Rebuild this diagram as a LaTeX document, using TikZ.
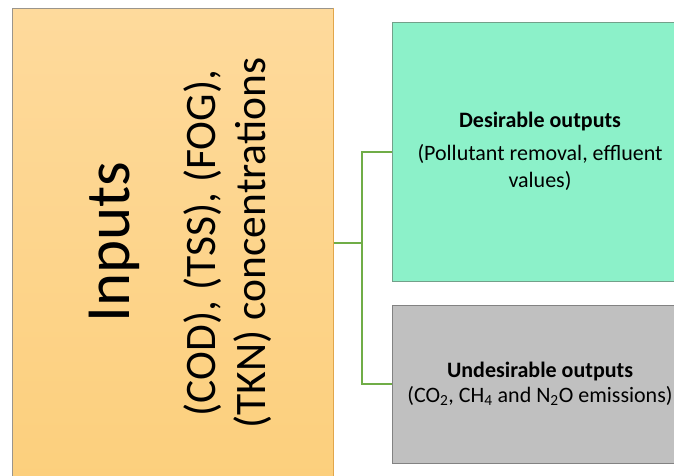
\documentclass[tikz,border=0pt]{standalone}
\usepackage{fontspec}
\setmainfont{Carlito}
\definecolor{inputtop}{HTML}{FEDA9C}
\definecolor{inputbottom}{HTML}{FCCF7C}
\definecolor{inputline}{HTML}{9A958C}
\definecolor{inputedge}{HTML}{E2A64A}
\definecolor{goodfill}{HTML}{8CF1C9}
\definecolor{goodline}{HTML}{73A08A}
\definecolor{badfill}{HTML}{C0C0C0}
\definecolor{badline}{HTML}{828282}
\definecolor{linkgreen}{HTML}{70AD47}
\tikzset{
  box/.style={draw, line width=1pt, inner sep=0pt, align=center},
  link/.style={draw=linkgreen, line width=2pt},
}
\begin{document}
\begin{tikzpicture}[x=1pt,y=-1pt]
		\clip (0,0) rectangle (674,475);
		\fill[white] (0,0) rectangle (674,475);
		% inputs side
		\node[box, draw=inputline, top color=inputtop, bottom color=inputbottom, minimum width=321pt, minimum height=482pt] (inputs) at (172.5,249) {};
		\draw[inputedge, line width=1pt] (inputs.north east) -- (inputs.south east);
		\node[rotate=90, font=\fontsize{63}{70}\selectfont] (title) at (114,242) {Inputs};
		\node[rotate=90, align=center, font=\fontsize{43.5}{50}\selectfont] (measures) at (228,243) {(COD), (TSS), (FOG),\\(TKN) concentrations};
		% outputs side
		\node[box, fill=goodfill, draw=goodline, minimum width=296pt, minimum height=259pt, font=\fontsize{22}{27}\selectfont] (good) at (540,151.5) {\textbf{Desirable outputs}\\[6pt](Pollutant removal, effluent\\values)};
		\node[box, fill=badfill, draw=badline, minimum width=296pt, minimum height=158pt, font=\fontsize{22}{27}\selectfont] (bad) at (540,384) {\textbf{Undesirable outputs}\\[-2pt](CO\textsubscript{2}, CH\textsubscript{4} and N\textsubscript{2}O emissions)};
		% connectors
		\coordinate (fork) at (362,243);
		\draw[link] (inputs.east |- fork) -- (fork);
		\draw[link] (good.west) -- (fork |- good.west) -- (fork |- bad.west) -- (bad.west);
	\end{tikzpicture}
\end{document}
